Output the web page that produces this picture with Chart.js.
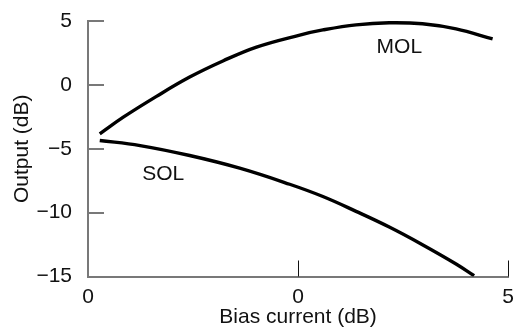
<!DOCTYPE html>
<html>
<head>
<meta charset="utf-8">
<script src="https://cdn.jsdelivr.net/npm/chart.js@4"></script>
<style>
html,body{margin:0;padding:0;background:#fff;}
#wrap{width:514px;height:334px;}
</style>
</head>
<body>
<div id="wrap"><canvas id="c" width="514" height="334"></canvas></div>
<script>
// ---- data ----
const molX = [-4.72, -4.16, -3.37, -2.58, -1.79, -0.99, 0.04, 0.59, 1.38, 2.17, 2.96, 3.76, 4.63];
const molY = [-3.83, -2.53, -0.90, 0.61, 1.87, 2.96, 3.90, 4.30, 4.70, 4.86, 4.78, 4.38, 3.60];
const solX = [-4.72, -3.76, -2.58, -1.39, -0.20, 0.59, 1.38, 2.17, 2.96, 3.76, 4.19];
const solY = [-4.35, -4.75, -5.53, -6.52, -7.78, -8.74, -9.90, -11.13, -12.51, -14.02, -14.94];

const xTickValues = [-5, 0, 5];
const xTickLabels = ['0', '0', '5'];
const yTickValues = [-15, -10, -5, 0, 5];
const yTickLabels = ['\u221215', '\u221210', '\u22125', '0', '5'];

const seriesNames = ['MOL', 'SOL'];
const labelX = [2.41, -3.21];
const labelY = [2.94, -6.96];

const xTitle = 'Bias current (dB)';
const yTitle = 'Output (dB)';

// ---- chart ----
const FONT = '"Liberation Sans", Arial, Helvetica, sans-serif';
const FS = 21;
const AXIS_GRAY = '#787878';

const pts = (xs, ys) => xs.map((x, i) => ({x: x, y: ys[i]}));

const innerTicks = {
  id: 'innerTicks',
  afterDatasetsDraw(chart) {
    const ctx = chart.ctx;
    const xs = chart.scales.x, ys = chart.scales.y;
    const L = 16;
    ctx.save();
    ctx.strokeStyle = AXIS_GRAY;
    ctx.lineWidth = 2;
    yTickValues.forEach(v => {
      const py = Math.round(ys.getPixelForValue(v));
      ctx.beginPath();
      ctx.moveTo(xs.left, py);
      ctx.lineTo(xs.left + L, py);
      ctx.stroke();
    });
    ctx.strokeStyle = '#111';
    ctx.lineWidth = 1;
    xTickValues.forEach(v => {
      if (v === xs.min) return;
      const px = Math.round(xs.getPixelForValue(v)) + 0.5;
      ctx.beginPath();
      ctx.moveTo(px, ys.bottom);
      ctx.lineTo(px, ys.bottom - L);
      ctx.stroke();
    });
    ctx.fillStyle = '#111';
    ctx.font = FS + 'px ' + FONT;
    ctx.textAlign = 'center';
    ctx.textBaseline = 'middle';
    seriesNames.forEach((n, i) => {
      ctx.fillText(n, xs.getPixelForValue(labelX[i]), ys.getPixelForValue(labelY[i]));
    });
    ctx.restore();
  }
};

new Chart(document.getElementById('c'), {
  type: 'scatter',
  data: {
    datasets: [
      {label: seriesNames[0], data: pts(molX, molY)},
      {label: seriesNames[1], data: pts(solX, solY)}
    ].map(d => Object.assign(d, {
      showLine: true,
      borderColor: '#000',
      borderWidth: 3.4,
      pointRadius: 0,
      pointHoverRadius: 0,
      fill: false,
      tension: 0.4,
      borderCapStyle: 'butt'
    }))
  },
  options: {
    responsive: false,
    animation: false,
    events: [],
    layout: {padding: {left: 0, right: 5, top: 21, bottom: 0}},
    plugins: {legend: {display: false}, tooltip: {enabled: false}},
    scales: {
      x: {
        type: 'linear',
        min: -5, max: 5,
        afterBuildTicks: s => { s.ticks = xTickValues.map(v => ({value: v})); },
        afterFit: s => { s.height = 57.5; },
        grid: {display: false},
        border: {display: true, color: AXIS_GRAY, width: 2},
        ticks: {
          color: '#111',
          font: {family: FONT, size: FS},
          padding: 0,
          maxRotation: 0,
          callback: (v) => { const i = xTickValues.indexOf(v); return i >= 0 ? xTickLabels[i] : ''; }
        },
        title: {display: true, text: xTitle, color: '#111', font: {family: FONT, size: FS}, padding: {top: 0, bottom: 4}}
      },
      y: {
        type: 'linear',
        min: -15, max: 5,
        afterBuildTicks: s => { s.ticks = yTickValues.map(v => ({value: v})); },
        afterFit: s => { s.width = 88; },
        grid: {display: false},
        border: {display: true, color: AXIS_GRAY, width: 2},
        ticks: {
          color: '#111',
          font: {family: FONT, size: FS},
          padding: 8,
          callback: (v) => { const i = yTickValues.indexOf(v); return i >= 0 ? yTickLabels[i] : ''; }
        },
        title: {display: true, text: yTitle, color: '#111', font: {family: FONT, size: FS}, padding: {top: 10, bottom: 0}}
      }
    }
  },
  plugins: [innerTicks]
});
</script>
</body>
</html>
